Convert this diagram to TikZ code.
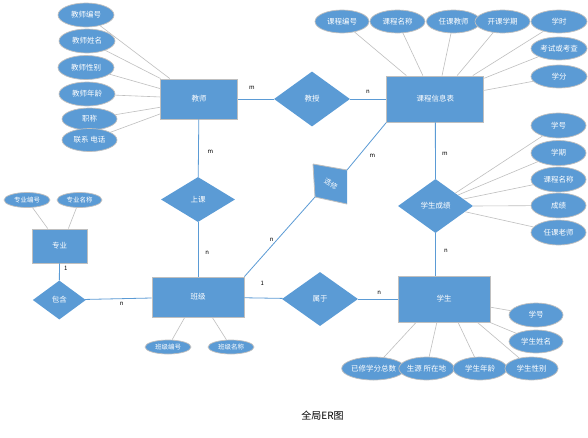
\documentclass[tikz,border=0pt]{standalone}
\usepackage{fontspec}
\setmainfont{Noto Sans CJK SC}
\usetikzlibrary{shapes.geometric}
\definecolor{erblue}{HTML}{5B9BD5}
\definecolor{ergray}{HTML}{BFBFBF}
\definecolor{linkblue}{HTML}{5B9BD5}
\tikzset{
  ent/.style={rectangle, fill=erblue, draw=ergray, line width=0.9pt, text=white, font=\fontsize{7.5}{8}\selectfont, inner sep=0pt},
  attr/.style={ellipse, fill=erblue, draw=ergray, line width=0.7pt, text=white, font=\fontsize{7.5}{8}\selectfont, inner sep=0pt, minimum width=55pt, minimum height=24pt},
  sattr/.style={attr, minimum width=46pt, minimum height=15pt, font=\fontsize{6.5}{7}\selectfont},
  rel/.style={diamond, fill=erblue, draw=none, text=white, font=\fontsize{7.5}{8}\selectfont, inner sep=0pt},
  alink/.style={draw=ergray, line width=0.6pt},
  rlink/.style={draw=linkblue, line width=0.8pt},
  card/.style={font=\fontsize{6}{7}\selectfont, text=black, inner sep=0pt}
}
\begin{document}
\begin{tikzpicture}[x=1pt, y=-1pt]
\useasboundingbox[fill=white] (0,0) rectangle (588,437);

% entities
\node[ent, minimum width=77pt, minimum height=40pt] (teacher) at (199,99) {教师};
\node[ent, minimum width=97pt, minimum height=46pt] (course) at (435.3,99) {课程信息表};
\node[ent, minimum width=55pt, minimum height=34pt] (major) at (59.5,246) {专业};
\node[ent, minimum width=92pt, minimum height=40pt] (class) at (198,297) {班级};
\node[ent, minimum width=92pt, minimum height=46pt] (student) at (444,299) {学生};

% relationships
\node[rel, minimum width=76pt, minimum height=55pt] (teach) at (312,99) {教授};
\node[rel, minimum width=74pt, minimum height=45pt] (attend) at (198,199.5) {上课};
\node[rel, minimum width=53pt, minimum height=39pt] (contain) at (59.3,300) {包含};
\node[rel, minimum width=76pt, minimum height=54pt] (belong) at (320,299) {属于};
\node[rel, minimum width=75pt, minimum height=54pt] (score) at (435.5,206) {学生成绩};

% skewed relationship 选修
\coordinate (q1) at (313,164);
\coordinate (q2) at (347,170);
\coordinate (q3) at (347,204);
\coordinate (q4) at (315,197);
\fill[erblue] (q1) -- (q2) -- (q3) -- (q4) -- cycle;
\draw[ergray, line width=0.8pt] (q1) -- (q2) (q3) -- (q4) -- (q1);
\node[text=white, font=\fontsize{7}{8}\selectfont, rotate=-30, inner sep=0pt] (elective) at (331,184) {选修};

% teacher attributes
\node[attr, minimum width=56pt] (t1) at (86,15) {教师编号};
\node[attr, minimum width=56pt] (t2) at (87,41) {教师姓名};
\node[attr, minimum width=56pt] (t3) at (86,67.5) {教师性别};
\node[attr, minimum width=56pt] (t4) at (87,94) {教师年龄};
\node[attr, minimum height=22pt] (t5) at (89.5,119) {职称};
\node[attr, minimum height=23pt] (t6) at (89.5,140) {联系 电话};

% course attributes
\node[attr, minimum width=54pt, minimum height=23pt] (c1) at (342,21.5) {课程编号};
\node[attr, minimum height=23pt] (c2) at (397.5,21.5) {课程名称};
\node[attr, minimum width=54pt, minimum height=23pt] (c3) at (453.5,21.5) {任课教师};
\node[attr, minimum height=23pt] (c4) at (502.5,21.5) {开课学期};
\node[attr, minimum width=56pt, minimum height=23pt] (c5) at (559,21.5) {学时};
\node[attr, minimum width=56pt, minimum height=23pt] (c6) at (559,48.5) {考试或考查};
\node[attr, minimum width=56pt, minimum height=23pt] (c7) at (559,76.5) {学分};

% score attributes
\node[attr, minimum height=25pt] (s1) at (558.5,125.5) {学号};
\node[attr, minimum height=25pt] (s2) at (558.5,153) {学期};
\node[attr, minimum height=25pt] (s3) at (558.5,179.5) {课程名称};
\node[attr, minimum height=25pt] (s4) at (558.5,205.5) {成绩};
\node[attr, minimum height=25pt] (s5) at (558.5,232.5) {任课老师};

% major attributes
\node[sattr] (m1) at (27,200) {专业编号};
\node[sattr, minimum width=45pt] (m2) at (79.5,200) {专业名称};

% class attributes
\node[sattr, minimum height=14pt] (b1) at (168,347) {班级编号};
\node[sattr, minimum height=14pt] (b2) at (231,347) {班级名称};

% student attributes
\node[attr, minimum width=54pt] (u1) at (536,315) {学号};
\node[attr, minimum width=54pt, minimum height=23pt] (u2) at (536,341.5) {学生姓名};
\node[attr, minimum height=23pt] (u3) at (373.5,368.5) {已修学分总数};
\node[attr, minimum width=53pt, minimum height=23pt] (u4) at (426.5,368.5) {生源 所在地};
\node[attr, minimum width=54pt, minimum height=23pt] (u5) at (480,368.5) {学生年龄};
\node[attr, minimum width=53pt, minimum height=23pt] (u6) at (531.5,368.5) {学生性别};

% attribute links
\path[alink] (t1) -- (teacher.145);
\path[alink] (t2) -- (teacher.152);
\path[alink] (t3) -- (teacher.165);
\path[alink] (t4) -- (teacher.177);
\path[alink] (t5) -- (teacher.-168);
\path[alink] (t6) -- (teacher.-159);

\path[alink] (c1) -- (course.141);
\path[alink] (c2) -- (course.118);
\path[alink] (c3) -- (course.74);
\path[alink] (c4) -- (course.47);
\path[alink] (c5) -- (course.32);
\path[alink] (c6) -- (course.23);
\path[alink] (c7) -- (course.10);

\path[alink] (s1) -- (score.33);
\path[alink] (s2) -- (score.26);
\path[alink] (s3) -- (score.14);
\path[alink] (s4) -- (score.0);
\path[alink] (s5) -- (score.-11);

\path[alink] (m1) -- (major.124);
\path[alink] (m2) -- (major.63);

\path[alink] (b1) -- (class.-123);
\path[alink] (b2) -- (class.-55);

\path[alink] (u1) -- (student.-10);
\path[alink] (u2) -- (student.-27);
\path[alink] (u3) -- (student.-140);
\path[alink] (u4) -- (student.-107);
\path[alink] (u5) -- (student.-59);
\path[alink] (u6) -- (student.-35);

% relationship links
\path[rlink] (teacher) -- (teach);
\path[rlink] (teach) -- (course);
\path[rlink] (teacher) -- (attend);
\path[rlink] (attend) -- (class);
\path[rlink] (class) -- (belong);
\path[rlink] (belong) -- (student);
\path[rlink] (course) -- (score);
\path[rlink] (score.south) -- (score.south |- student.north);
\path[rlink] (major) -- (contain);
\path[rlink] (contain) -- (class);
\path[rlink] (class.north east) -- (q4);
\path[rlink] (q2) -- (course.south west);

% cardinalities
\node[card] (k1) at (252,87.5) {m};
\node[card] (k2) at (368,92) {n};
\node[card] (k3) at (210.5,152) {m};
\node[card] (k4) at (207.3,252.5) {n};
\node[card] (k5) at (271.7,239.5) {n};
\node[card] (k6) at (262.3,283.5) {1};
\node[card] (k7) at (65.7,268) {1};
\node[card] (k8) at (121.7,303.5) {n};
\node[card] (k9) at (379.3,292.5) {n};
\node[card] (k10) at (372.3,156) {m};
\node[card] (k11) at (445,153.5) {m};
\node[card] (k12) at (446,251) {n};

% caption
\node[font=\fontsize{10}{12}\selectfont, text=black, inner sep=0pt] (caption) at (322.5,415.5) {全局ER图};
\end{tikzpicture}
\end{document}
